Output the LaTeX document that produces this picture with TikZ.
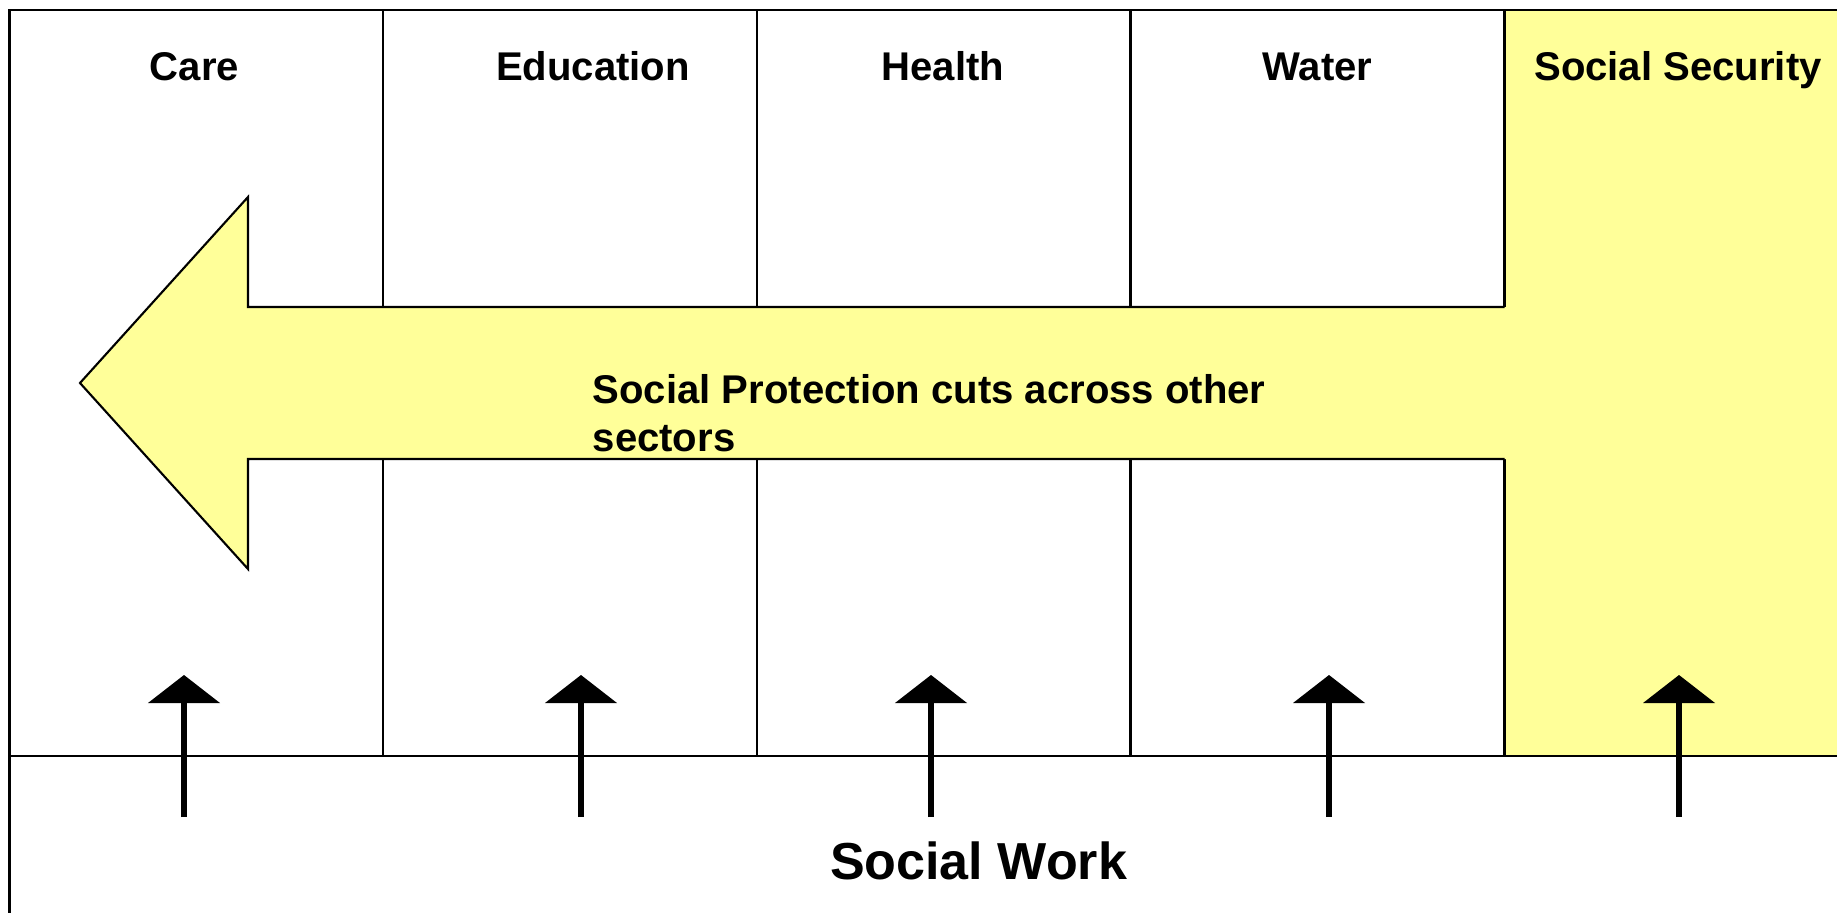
\documentclass[tikz,border=0pt]{standalone}
\usepackage{fontspec}
\setmainfont{Liberation Sans}
\usetikzlibrary{arrows.meta}
\definecolor{paleyellow}{HTML}{FFFF99}
\begin{document}
\begin{tikzpicture}[x=0.01cm,y=-0.01cm,
  frame/.style={draw=black,line width=0.6pt},
  header/.style={font=\bfseries\fontsize{11.4pt}{13.7pt}\selectfont,anchor=base,inner sep=0pt},
  bodytext/.style={font=\bfseries\fontsize{11.4pt}{13.7pt}\selectfont,anchor=base west,inner sep=0pt},
  bigtext/.style={font=\bfseries\fontsize{14.8pt}{17.8pt}\selectfont,anchor=base,inner sep=0pt},
  uparrow/.style={line width=1.45pt,-{Triangle[length=0.28cm,width=0.72cm,line width=0pt]}}
]
\useasboundingbox (0,0) rectangle (1837,912);
\begin{scope}
\clip (0,0) rectangle (1837,912);

% sector columns
\draw[frame,fill=white] (9.5,10) rectangle (383,756);
\draw[frame,fill=white] (383,10) rectangle (757,756);
\draw[frame,fill=white] (757,10) rectangle (1130.5,756);
\draw[frame,fill=white] (1130.5,10) rectangle (1504.5,756);
\fill[paleyellow] (1504.5,10) rectangle (1878,756);
\draw[frame] (1504.5,756) -- (1504.5,10) -- (1878,10);

% social work band
\draw[frame] (9.5,1000) -- (9.5,756) -- (1900,756);

% big left arrow running out of the social security column
\fill[paleyellow] (1507,307) -- (248,307) -- (248,197) -- (80,383) -- (248,569) -- (248,459) -- (1507,459) -- cycle;
\draw[frame,line join=miter] (1504.5,307) -- (248,307) -- (248,197) -- (80,383) -- (248,569) -- (248,459) -- (1504.5,459);

% headings
\node[header] (care) at (194.5,80) {Care};
\node[header] (education) at (593,80) {Education};
\node[header] (health) at (943,80) {Health};
\node[header] (water) at (1317.5,80) {Water};
\node[header] (security) at (1678,80) {Social Security};

\node[bodytext] (prot1) at (592,403) {Social Protection cuts across other};
\node[bodytext] (prot2) at (592,451) {sectors};

\node[bigtext] (work) at (978.5,879) {Social Work};

% arrows from social work into each sector
\foreach \n/\x in {a/184,b/581,c/931,d/1329,e/1679}{
  \coordinate (from\n) at (\x,817);
  \coordinate (to\n) at (\x,675);
  \draw[uparrow] (from\n) -- (to\n);
}
\end{scope}
\end{tikzpicture}
\end{document}
